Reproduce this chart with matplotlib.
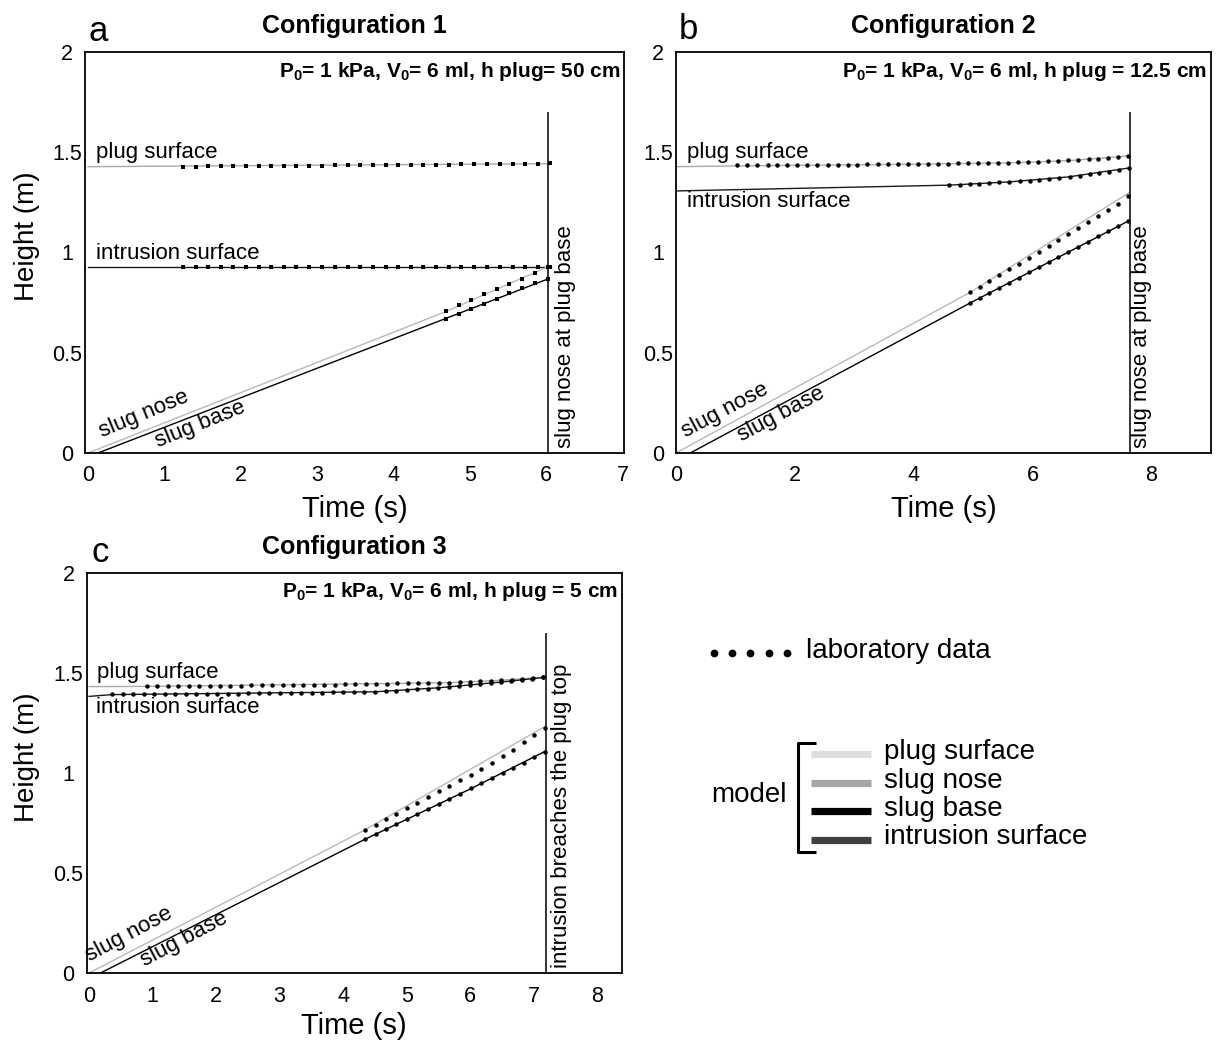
"""Slug ascent through a plug: model vs laboratory data for three configurations."""
import matplotlib.pyplot as plt

W, H, DPI = 1219, 1046, 100

plt.rcParams["font.family"] = ["Liberation Sans", "DejaVu Sans"]
plt.rcParams["mathtext.fontset"] = "custom"
plt.rcParams["mathtext.rm"] = "Liberation Sans"
plt.rcParams["mathtext.bf"] = "Liberation Sans:bold"

PLUG_GRAY = "#a9a9a9"
NOSE_GRAY = "#b9b9b9"
INTR_DARK = "#1a1a1a"

# ---- configuration 1 (h plug = 50 cm) ----
A_T_SURF = [1.24, 1.41, 1.57, 1.74, 1.90, 2.07, 2.24, 2.40, 2.57, 2.73,
            2.90, 3.07, 3.23, 3.40, 3.56, 3.73, 3.90, 4.06, 4.23, 4.39,
            4.56, 4.73, 4.89, 5.06, 5.22, 5.39, 5.56, 5.72, 5.89, 6.05]
A_PLUG = [1.428, 1.428, 1.429, 1.429, 1.430, 1.430, 1.431, 1.431, 1.432, 1.432,
          1.433, 1.433, 1.434, 1.434, 1.435, 1.435, 1.436, 1.436, 1.437, 1.437,
          1.438, 1.438, 1.439, 1.439, 1.440, 1.441, 1.441, 1.442, 1.443, 1.445]
A_INTR = [0.927, 0.927, 0.927, 0.927, 0.927, 0.927, 0.927, 0.927, 0.927, 0.927,
          0.927, 0.927, 0.927, 0.927, 0.927, 0.927, 0.927, 0.927, 0.927, 0.927,
          0.927, 0.927, 0.927, 0.927, 0.927, 0.927, 0.928, 0.928, 0.929, 0.930]
A_T_SLUG = [4.69, 4.86, 5.02, 5.18, 5.35, 5.51, 5.68, 5.85, 6.02]
A_NOSE = [0.706, 0.740, 0.765, 0.791, 0.816, 0.843, 0.867, 0.896, 0.927]
A_BASE = [0.667, 0.693, 0.720, 0.745, 0.770, 0.798, 0.821, 0.847, 0.869]
A_M_PLUG_T, A_M_PLUG = [0.0, 6.03], [1.428, 1.443]
A_M_INTR_T, A_M_INTR = [0.0, 6.03], [0.929, 0.929]
A_M_NOSE_T, A_M_NOSE = [0.0, 4.69, 6.03], [0.0, 0.706, 0.930]
A_M_BASE_T, A_M_BASE = [0.13, 6.03], [0.0, 0.869]
A_END = 6.03

# ---- configuration 2 (h plug = 12.5 cm) ----
B_T_PLUG = [1.03, 1.20, 1.37, 1.54, 1.70, 1.87, 2.04, 2.21, 2.38, 2.55,
            2.72, 2.89, 3.05, 3.22, 3.39, 3.56, 3.73, 3.90, 4.07, 4.24,
            4.40, 4.57, 4.74, 4.91, 5.08, 5.25, 5.42, 5.59, 5.75, 5.92,
            6.09, 6.26, 6.43, 6.60, 6.77, 6.94, 7.10, 7.27, 7.44, 7.61]
B_PLUG = [1.434, 1.434, 1.435, 1.435, 1.435, 1.436, 1.436, 1.436, 1.437, 1.437,
          1.437, 1.438, 1.438, 1.439, 1.439, 1.440, 1.440, 1.441, 1.441, 1.442,
          1.442, 1.443, 1.444, 1.445, 1.445, 1.446, 1.447, 1.448, 1.450, 1.451,
          1.453, 1.455, 1.457, 1.459, 1.461, 1.464, 1.467, 1.470, 1.475, 1.481]
B_T_INTR = [4.60, 4.77, 4.94, 5.10, 5.27, 5.44, 5.61, 5.78, 5.95, 6.11,
            6.28, 6.45, 6.62, 6.79, 6.96, 7.12, 7.29, 7.46, 7.62]
B_INTR = [1.337, 1.339, 1.341, 1.344, 1.347, 1.350, 1.353, 1.355, 1.358, 1.362,
          1.367, 1.372, 1.378, 1.384, 1.390, 1.396, 1.403, 1.411, 1.420]
B_T_SLUG = [4.94, 5.11, 5.27, 5.44, 5.60, 5.77, 5.94, 6.10, 6.27, 6.43,
            6.60, 6.77, 6.93, 7.10, 7.27, 7.43, 7.60]
B_NOSE = [0.801, 0.829, 0.858, 0.887, 0.916, 0.945, 0.975, 1.004, 1.033, 1.062,
          1.091, 1.120, 1.150, 1.180, 1.211, 1.244, 1.280]
B_BASE = [0.747, 0.773, 0.798, 0.824, 0.849, 0.875, 0.901, 0.926, 0.952, 0.977,
          1.003, 1.029, 1.054, 1.080, 1.106, 1.131, 1.157]
B_M_PLUG_T, B_M_PLUG = [0.0, 1.03, 4.0, 5.6, 6.6, 7.63], [1.428, 1.432, 1.440, 1.447, 1.458, 1.482]
B_M_INTR_T, B_M_INTR = [0.0, 4.6, 5.6, 6.6, 7.63], [1.307, 1.336, 1.352, 1.377, 1.422]
B_M_NOSE_T, B_M_NOSE = [0.0, 4.94, 7.63], [0.0, 0.800, 1.300]
B_M_BASE_T, B_M_BASE = [0.24, 4.94, 7.63], [0.0, 0.747, 1.160]
B_END = 7.63

# ---- configuration 3 (h plug = 5 cm) ----
C_T_PLUG = [0.91, 1.07, 1.24, 1.40, 1.57, 1.73, 1.90, 2.06, 2.22, 2.39,
            2.55, 2.72, 2.88, 3.05, 3.21, 3.37, 3.54, 3.70, 3.87, 4.03,
            4.19, 4.36, 4.52, 4.69, 4.85, 5.02, 5.18, 5.34, 5.51, 5.67,
            5.84, 6.00, 6.16, 6.33, 6.49, 6.66, 6.82, 6.99, 7.15]
C_PLUG = [1.433, 1.433, 1.434, 1.434, 1.435, 1.435, 1.436, 1.436, 1.437, 1.437,
          1.438, 1.438, 1.439, 1.439, 1.440, 1.440, 1.441, 1.442, 1.442, 1.443,
          1.444, 1.445, 1.446, 1.447, 1.448, 1.448, 1.449, 1.449, 1.450, 1.452,
          1.454, 1.456, 1.459, 1.461, 1.464, 1.467, 1.470, 1.473, 1.478]
C_T_INTR = [0.36, 0.53, 0.69, 0.86, 1.02, 1.19, 1.35, 1.52, 1.69, 1.85,
            2.02, 2.18, 2.35, 2.51, 2.68, 2.84, 3.01, 3.18, 3.34, 3.51,
            3.67, 3.84, 4.00, 4.17, 4.33, 4.50, 4.67, 4.83, 5.00, 5.16,
            5.33, 5.49, 5.66, 5.82, 5.99, 6.16, 6.32, 6.49, 6.65, 6.82,
            6.98, 7.15]
C_INTR = [1.393, 1.393, 1.393, 1.394, 1.394, 1.394, 1.395, 1.395, 1.396, 1.396,
          1.396, 1.397, 1.397, 1.398, 1.398, 1.399, 1.399, 1.400, 1.401, 1.401,
          1.402, 1.403, 1.404, 1.405, 1.406, 1.407, 1.409, 1.411, 1.414, 1.418,
          1.422, 1.427, 1.430, 1.433, 1.438, 1.444, 1.449, 1.454, 1.462, 1.467,
          1.472, 1.478]
C_T_SLUG = [4.34, 4.51, 4.67, 4.84, 5.01, 5.17, 5.34, 5.51, 5.67, 5.84,
            6.01, 6.17, 6.34, 6.51, 6.67, 6.84, 7.01, 7.17]
C_NOSE = [0.715, 0.742, 0.770, 0.797, 0.825, 0.852, 0.880, 0.908, 0.935, 0.963,
          0.991, 1.020, 1.050, 1.084, 1.117, 1.153, 1.188, 1.227]
C_BASE = [0.668, 0.694, 0.719, 0.744, 0.770, 0.795, 0.821, 0.846, 0.872, 0.897,
          0.923, 0.948, 0.973, 0.998, 1.023, 1.050, 1.078, 1.107]
C_M_PLUG_T, C_M_PLUG = [0.0, 0.91, 4.9, 5.7, 6.4, 7.19], [1.432, 1.433, 1.448, 1.452, 1.462, 1.479]
C_M_INTR_T, C_M_INTR = [0.0, 0.36, 4.5, 5.5, 6.5, 7.19], [1.383, 1.392, 1.406, 1.426, 1.455, 1.479]
C_M_NOSE_T, C_M_NOSE = [0.0, 4.34, 7.19], [0.0, 0.715, 1.235]
C_M_BASE_T, C_M_BASE = [0.18, 4.34, 6.02, 7.19], [0.0, 0.668, 0.923, 1.110]
C_END = 7.19

Y_TICKS = [0, 0.5, 1, 1.5, 2]
Y_TICK_LABELS = ["0", "0.5", "1", "1.5", "2"]
LEGEND_MODEL = ["plug surface", "slug nose", "slug base", "intrusion surface"]
LEGEND_COLORS = ["#dedede", "#a6a6a6", "#000000", "#404040"]


def px_box(left, top, right, bottom):
    return [left / W, 1 - bottom / H, (right - left) / W, (bottom - top) / H]


def plot_panel(ax, cfg):
    ax.plot(cfg["m_plug"][0], cfg["m_plug"][1], color=PLUG_GRAY, lw=1.0)
    ax.plot(cfg["m_intr"][0], cfg["m_intr"][1], color=INTR_DARK, lw=1.0)
    ax.plot(cfg["m_nose"][0], cfg["m_nose"][1], color=NOSE_GRAY, lw=1.0)
    ax.plot(cfg["m_base"][0], cfg["m_base"][1], color="black", lw=1.0)

    dots = dict(ls="none", marker=cfg["marker"], ms=cfg["ms"], color="black", mew=0)
    for t, h in cfg["data"]:
        ax.plot(t, h, **dots)

    ax.vlines(cfg["end"], 0, 1.7, color="black", lw=1.1)

    ax.set_xlim(*cfg["xlim"])
    ax.set_ylim(0, 2)
    ax.set_xticks(cfg["xticks"])
    ax.set_yticks(Y_TICKS)
    ax.set_yticklabels(Y_TICK_LABELS)
    ax.tick_params(length=0, labelsize=15.5)
    ax.tick_params(axis="x", pad=9)
    ax.tick_params(axis="y", pad=13)
    for lab in ax.get_yticklabels():
        lab.set_horizontalalignment("center")
    for sp in ax.spines.values():
        sp.set_linewidth(1.3)

    ax.set_xlabel("Time (s)", fontsize=21)
    ax.xaxis.set_label_coords(0.5, cfg["xlabel_y"])
    if cfg["ylabel"]:
        ax.set_ylabel("Height (m)", fontsize=20)
        ax.yaxis.set_label_coords(cfg["ylabel_x"], 0.54)

    ax.text(0.5, cfg["title_y"], cfg["title"], transform=ax.transAxes,
            ha="center", va="center", fontsize=18, fontweight="bold")
    ax.text(cfg["letter_xy"][0], cfg["letter_xy"][1], cfg["letter"],
            transform=ax.transAxes, ha="center", va="center", fontsize=25)
    ax.text(0.993, cfg["param_y"], cfg["params"], transform=ax.transAxes,
            ha="right", va="baseline", fontsize=15, fontweight="bold")

    for txt, (x, y) in cfg["labels"].items():
        ax.text(x, y, txt, fontsize=16, ha="left", va="baseline")
    for txt, (x, y, rot) in cfg["slanted"].items():
        ax.text(x, y, txt, fontsize=16, ha="left", va="baseline",
                rotation=rot, rotation_mode="anchor")
    ax.text(cfg["vtext_x"], 0.025, cfg["vtext"], fontsize=16, rotation=90,
            ha="left", va="bottom")


def draw_legend(fig):
    lax = fig.add_axes([0, 0, 1, 1])
    lax.set_xlim(0, W)
    lax.set_ylim(H, 0)
    lax.axis("off")
    lax.patch.set_visible(False)

    lax.plot([714, 732, 750, 769, 787], [653] * 5, ls="none", marker="o",
             ms=5.6, color="black", mew=0)
    lax.text(806, 651, "laboratory data", fontsize=20, va="center", ha="left")

    lax.plot([816, 797.5, 797.5, 816], [742.5, 742.5, 851.5, 851.5],
             color="black", lw=2.2, solid_capstyle="butt")
    for i, (name, col) in enumerate(zip(LEGEND_MODEL, LEGEND_COLORS)):
        y = 754 + i * 28.5
        lax.plot([811, 871], [y, y], color=col, lw=5.2, solid_capstyle="butt")
        lax.text(884, y - 2, name, fontsize=20, va="center", ha="left")
    lax.text(787, 795, "model", fontsize=20, va="center", ha="right")


def main():
    fig = plt.figure(figsize=(W / DPI, H / DPI), dpi=DPI)

    panels = [
        dict(box=px_box(85, 52, 624, 453), xlim=(-0.04, 7.02), xticks=range(0, 8),
             title="Configuration 1", letter="a", letter_xy=(0.024, 1.052),
             title_y=1.066, param_y=0.938, xlabel_y=-0.105, ylabel=True, ylabel_x=-0.084,
             params=r"P$_{\mathbf{0}}$= 1 kPa, V$_{\mathbf{0}}$= 6 ml, h plug= 50 cm",
             m_plug=(A_M_PLUG_T, A_M_PLUG), m_intr=(A_M_INTR_T, A_M_INTR),
             m_nose=(A_M_NOSE_T, A_M_NOSE), m_base=(A_M_BASE_T, A_M_BASE),
             data=[(A_T_SURF, A_PLUG), (A_T_SURF, A_INTR),
                   (A_T_SLUG, A_NOSE), (A_T_SLUG, A_BASE)],
             marker="s", ms=3.0, end=A_END,
             labels={"plug surface": (0.105, 1.471), "intrusion surface": (0.105, 0.969)},
             slanted={"slug nose": (0.185, 0.078, 22.5), "slug base": (0.915, 0.028, 22)},
             vtext="slug nose at plug base", vtext_x=6.12),
        dict(box=px_box(676, 52, 1211, 453), xlim=(0, 9.0), xticks=[0, 2, 4, 6, 8],
             title="Configuration 2", letter="b", letter_xy=(0.024, 1.055),
             title_y=1.066, param_y=0.938, xlabel_y=-0.105, ylabel=False, ylabel_x=0,
             params=r"P$_{\mathbf{0}}$= 1 kPa, V$_{\mathbf{0}}$= 6 ml, h plug = 12.5 cm",
             m_plug=(B_M_PLUG_T, B_M_PLUG), m_intr=(B_M_INTR_T, B_M_INTR),
             m_nose=(B_M_NOSE_T, B_M_NOSE), m_base=(B_M_BASE_T, B_M_BASE),
             data=[(B_T_PLUG, B_PLUG), (B_T_INTR, B_INTR),
                   (B_T_SLUG, B_NOSE), (B_T_SLUG, B_BASE)],
             marker="o", ms=3.2, end=B_END,
             labels={"plug surface": (0.19, 1.470), "intrusion surface": (0.19, 1.228)},
             slanted={"slug nose": (0.163, 0.078, 28), "slug base": (1.105, 0.056, 28)},
             vtext="slug nose at plug base", vtext_x=7.66),
        dict(box=px_box(86.5, 573, 622, 973), xlim=(-0.04, 8.39), xticks=range(0, 9),
             title="Configuration 3", letter="c", letter_xy=(0.025, 1.052),
             title_y=1.065, param_y=0.94, xlabel_y=-0.098, ylabel=True, ylabel_x=-0.087,
             params=r"P$_{\mathbf{0}}$= 1 kPa, V$_{\mathbf{0}}$= 6 ml, h plug = 5 cm",
             m_plug=(C_M_PLUG_T, C_M_PLUG), m_intr=(C_M_INTR_T, C_M_INTR),
             m_nose=(C_M_NOSE_T, C_M_NOSE), m_base=(C_M_BASE_T, C_M_BASE),
             data=[(C_T_PLUG, C_PLUG), (C_T_INTR, C_INTR),
                   (C_T_SLUG, C_NOSE), (C_T_SLUG, C_BASE)],
             marker="o", ms=3.2, end=C_END,
             labels={"plug surface": (0.13, 1.473), "intrusion surface": (0.11, 1.300)},
             slanted={"slug nose": (0.016, 0.057, 28), "slug base": (0.87, 0.032, 28)},
             vtext="intrusion breaches the plug top", vtext_x=7.28),
    ]

    for cfg in panels:
        ax = fig.add_axes(cfg["box"])
        plot_panel(ax, cfg)

    draw_legend(fig)
    fig.savefig("out.png", dpi=DPI)
    plt.close(fig)


if __name__ == "__main__":
    main()
